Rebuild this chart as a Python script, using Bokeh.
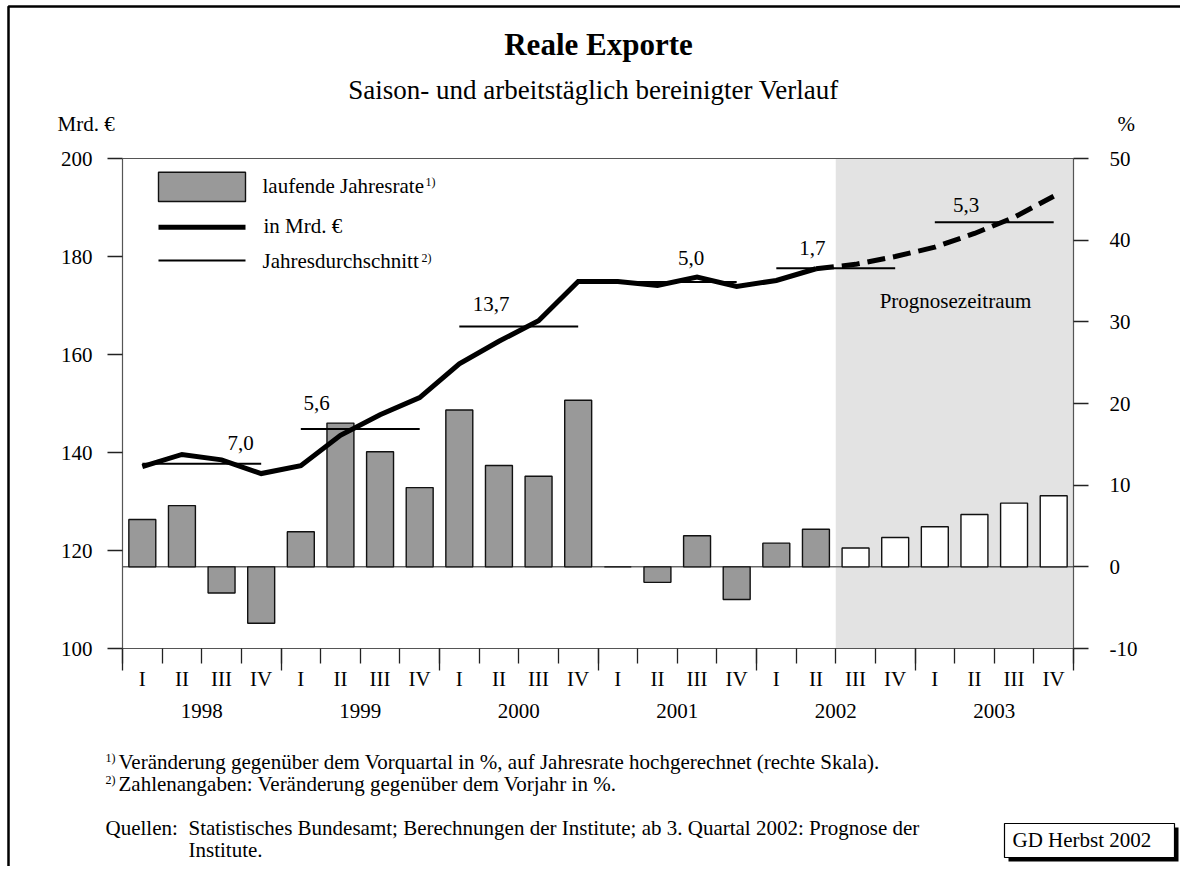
from bokeh.plotting import figure
from bokeh.models import Range1d, LinearAxis, FixedTicker, Label, BoxAnnotation, ColumnDataSource
from bokeh.core.properties import value
from bokeh.embed import file_html
from bokeh.resources import INLINE

# ---------------- data ----------------
years = ["1998", "1999", "2000", "2001", "2002", "2003"]
quarters = ["I", "II", "III", "IV"]
# laufende Jahresrate, % (right scale)
rate_pct = [5.8, 7.5, -3.2, -6.9,
            4.3, 17.6, 14.1, 9.7,
            19.2, 12.4, 11.1, 20.4,
            0.0, -1.9, 3.8, -4.0,
            2.9, 4.6, 2.3, 3.6,
            4.9, 6.4, 7.8, 8.7]
# reale Exporte, Mrd. EUR (left scale)
exports_bn = [137.1, 139.6, 138.5, 135.7,
              137.3, 143.5, 147.7, 151.2,
              158.1, 162.7, 166.9, 174.9,
              174.9, 174.1, 175.8, 173.9,
              175.1, 177.5, 178.4, 180.0,
              181.9, 184.7, 188.0, 192.3]
# Jahresdurchschnitt, Mrd. EUR
annual_avg_bn = [137.7, 144.8, 165.7, 174.8, 177.6, 187.0]
annual_change_txt = ["7,0", "5,6", "13,7", "5,0", "1,7", "5,3"]
n_observed = 18   # 1998 I .. 2002 II observed, rest forecast

# ---------------- layout ----------------
W, H = 1180, 866
X0, X1 = 0, 24
YL0, YL1 = 100, 200
YR0, YR1 = -10, 50
CL, CR, CT, CB = 122, 1073, 158, 648      # chart box on the canvas, px
sx = (CR - CL) / (X1 - X0)
syl = (CB - CT) / (YL1 - YL0)
syr = (CB - CT) / (YR1 - YR0)


def dx(px):
    return X0 + (px - CL) / sx


def dy(py):
    return YL1 - (py - CT) / syl


FONT = "Liberation Serif"
FSN = 21
FS = f"{FSN}px"
SUPN = 12
SUP = f"{SUPN}px"
BL = 0.36          # baseline correction (fraction of font size)
AX = "#555555"
TK = "#222222"


def base(py, size):
    return py - BL * size


# label placement (x in quarter units, offset in px above the average line)
label_x = [2.98, 4.9, 9.30, 14.35, 17.41, 21.29]
label_dy = [13, 18, 15, 16, 13, 10]

n = len(rate_pct)
centers = [i + 0.5 for i in range(n)]
qlabels = [quarters[i % 4] for i in range(n)]

p = figure(width=W, height=H,
           x_range=Range1d(X0 - CL / sx, X1 + (W - CR) / sx),
           y_range=Range1d(YL0 - (H - CB) / syl, YL1 + CT / syl),
           x_axis_type=None, y_axis_type=None, output_backend="svg",
           toolbar_location=None, min_border=0)
p.extra_y_ranges = {"pct": Range1d(YR0 - (H - CB) / syr, YR1 + CT / syr)}
p.outline_line_color = None
p.background_fill_color = "white"
p.border_fill_color = "white"


def base_axis(ax):
    ax.axis_line_color = AX
    ax.axis_line_width = 1.2
    ax.major_tick_line_color = TK
    ax.major_tick_line_width = 1.3
    ax.minor_tick_line_color = TK
    ax.minor_tick_line_width = 1.3
    ax.major_tick_in = 0
    ax.minor_tick_in = 0
    ax.minor_tick_out = 0
    ax.major_label_text_font = FONT
    ax.major_label_text_font_size = FS
    ax.major_label_text_color = "black"


# forecast shading
p.add_layout(BoxAnnotation(left=n_observed, right=X1, top=YL1, bottom=YL0,
                           fill_color="#e3e3e3", fill_alpha=1.0,
                           line_color=None, level="underlay"))

yl = LinearAxis(ticker=FixedTicker(ticks=list(range(YL0, YL1 + 1, 20)), minor_ticks=[]),
                fixed_location=X0, bounds=(YL0, YL1))
base_axis(yl)
yl.major_tick_out = 15
yl.major_label_standoff = 15
p.add_layout(yl, "left")

rt = list(range(YR0, YR1 + 1, 10))
yr = LinearAxis(y_range_name="pct", ticker=FixedTicker(ticks=rt, minor_ticks=[]),
                major_label_overrides={t: str(t) for t in rt},
                fixed_location=X1, bounds=(YR0, YR1))
base_axis(yr)
yr.major_tick_out = 15
yr.major_label_standoff = 21
p.add_layout(yr, "right")

# top edge of the chart box
top_ax = LinearAxis(ticker=FixedTicker(ticks=[], minor_ticks=[]), fixed_location=YL1,
                    bounds=(X0, X1))
base_axis(top_ax)
p.add_layout(top_ax, "above")

ybounds = list(range(0, n + 1, 4))
xa = LinearAxis(ticker=FixedTicker(ticks=ybounds, minor_ticks=list(range(n + 1))),
                major_label_overrides={t: "" for t in ybounds},
                fixed_location=YL0, bounds=(X0, X1))
base_axis(xa)
xa.major_tick_out = 22
xa.minor_tick_out = 15
p.add_layout(xa, "below")

xq = LinearAxis(ticker=FixedTicker(ticks=centers, minor_ticks=[]),
                major_label_overrides=dict(zip(centers, qlabels)),
                fixed_location=YL0, bounds=(X0, X1))
base_axis(xq)
xq.axis_line_color = None
xq.major_tick_line_color = None
xq.major_tick_out = 0
xq.major_label_standoff = 18
p.add_layout(xq, "below")

ymid = [4 * k + 2 for k in range(len(years))]
xy = LinearAxis(ticker=FixedTicker(ticks=ymid, minor_ticks=[]),
                major_label_overrides=dict(zip(ymid, years)),
                fixed_location=YL0, bounds=(X0, X1))
base_axis(xy)
xy.axis_line_color = None
xy.major_tick_line_color = None
xy.major_tick_out = 0
xy.major_label_standoff = 55
p.add_layout(xy, "below")

# zero line of the right scale
p.segment(x0=[X0], x1=[X1], y0=[0], y1=[0], line_color="#666666", line_width=1.5,
          y_range_name="pct")

# bars
fills = ["#999999"] * n_observed + ["white"] * (n - n_observed)
src = ColumnDataSource(dict(x=centers, top=rate_pct, fill=fills))
p.vbar(x="x", top="top", bottom=0, width=0.68, fill_color="fill", line_color="#111111",
       line_width=1.4, y_range_name="pct", source=src)

# export level line
p.line(centers[:n_observed], exports_bn[:n_observed], line_width=5, color="black",
       line_join="miter")
p.line(centers[n_observed - 1:], exports_bn[n_observed - 1:], line_width=5, color="black",
       line_dash="18 8")

# annual averages
p.segment(x0=[4 * k + 0.5 for k in range(len(years))],
          x1=[4 * k + 3.5 for k in range(len(years))],
          y0=annual_avg_bn, y1=annual_avg_bn, line_width=2, color="black")
p.text(x=label_x, y=annual_avg_bn, text=annual_change_txt,
       y_offset=[-(d + BL * FSN) for d in label_dy],
       text_font=value(FONT), text_font_size=FS, text_align="center",
       text_baseline="alphabetic", text_color="black")

# legend
p.quad(left=dx(158), right=dx(245), top=dy(171.7), bottom=dy(201), fill_color="#999999",
       line_color="#111111", line_width=1.4)
p.line([dx(158), dx(245)], [dy(226.7), dy(226.7)], line_width=5, color="black")
p.line([dx(158), dx(245)], [dy(260), dy(260)], line_width=2, color="black")
p.text(x=[dx(262), dx(263), dx(262)],
       y=[dy(base(193, FSN)), dy(base(233, FSN)), dy(base(268, FSN))],
       text=["laufende Jahresrate", "in Mrd. €", "Jahresdurchschnitt"],
       text_font=value(FONT), text_font_size=FS, text_baseline="alphabetic",
       text_color="black")
p.text(x=[dx(425), dx(421)], y=[dy(base(186, SUPN)), dy(base(262, SUPN))], text=["1)", "2)"],
       text_font=value(FONT), text_font_size=SUP, text_baseline="alphabetic",
       text_color="black")

p.text(x=[dx(955)], y=[dy(base(308, FSN))], text=["Prognosezeitraum"], text_font=value(FONT),
       text_font_size=FS, text_align="center", text_baseline="alphabetic", text_color="black")


def lab(px, py, txt, size=FSN, align="left", style="normal"):
    p.add_layout(Label(x=dx(px), y=dy(base(py, size)), text=txt, text_font=FONT,
                       text_font_size=f"{size}px", text_align=align,
                       text_baseline="alphabetic", text_font_style=style,
                       text_color="black"))


lab(598, 55.5, "Reale Exporte", size=31, align="center", style="bold")
lab(593, 99, "Saison- und arbeitstäglich bereinigter Verlauf", size=27, align="center")
lab(57, 131, "Mrd. €")
lab(1117, 131, "%")

lab(105, 762, "1)", size=SUPN)
lab(118, 769, "Veränderung gegenüber dem Vorquartal in %, auf Jahresrate hochgerechnet (rechte Skala).")
lab(105, 784, "2)", size=SUPN)
lab(118, 791, "Zahlenangaben: Veränderung gegenüber dem Vorjahr in %.")
lab(105, 835, "Quellen:")
lab(188, 835, "Statistisches Bundesamt; Berechnungen der Institute; ab 3. Quartal 2002: Prognose der")
lab(188, 857, "Institute.")

# GD box with shadow
p.quad(left=[dx(1008)], right=[dx(1178)], top=[dy(827)], bottom=[dy(861)],
       fill_color="black", line_color=None)
p.quad(left=[dx(1004)], right=[dx(1174)], top=[dy(823)], bottom=[dy(857)],
       fill_color="white", line_color="black", line_width=1.2)
lab(1012, 847, "GD Herbst 2002")

# outer frame (left and top edges)
p.line([dx(8), dx(8), dx(W + 10)], [dy(H + 10), dy(6), dy(6)], line_width=2.5, color="black")

open("out.html", "w").write(file_html(p, INLINE))
